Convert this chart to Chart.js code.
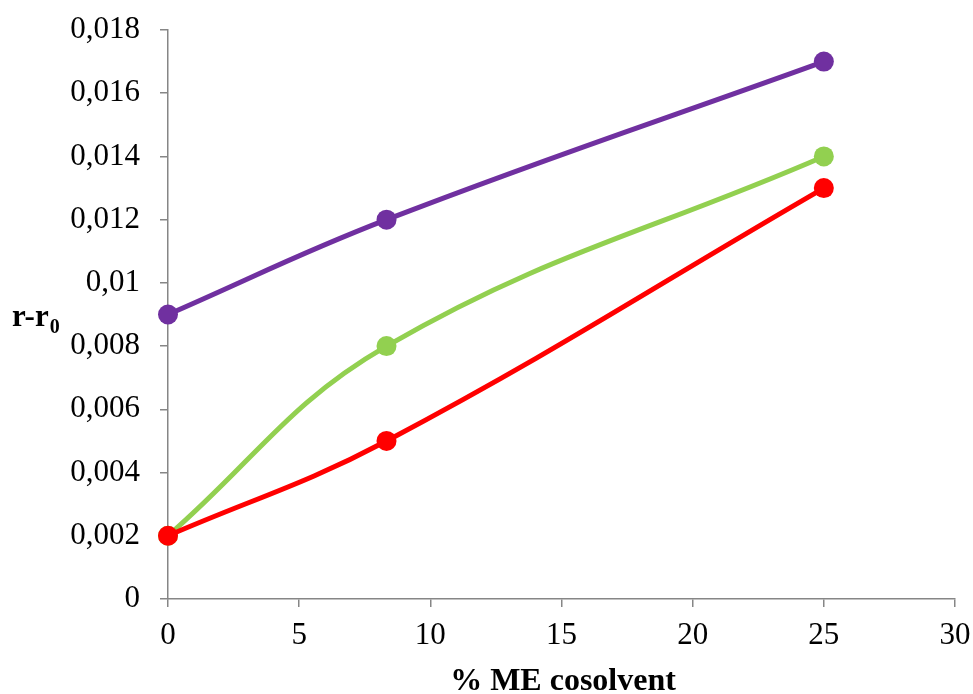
<!DOCTYPE html>
<html>
<head>
<meta charset="utf-8">
<script src="https://cdn.jsdelivr.net/npm/chart.js@4"></script>
<style>
  body { margin: 0; background: #fff; }
  canvas { display: block; }
</style>
</head>
<body>
<canvas id="chart" width="973" height="694"></canvas>
<script>
// Data
const xValues = [0, 8.33, 25];
const purpleValues = [0.009, 0.012, 0.017];
const greenValues = [0.002, 0.008, 0.014];
const redValues = [0.002, 0.005, 0.013];

const xTitle = '% ME cosolvent';
const yTitle = 'r-r';
const yTitleSub = '0';

const toPoints = values => values.map((v, i) => ({ x: xValues[i], y: v }));

const FONT = "'Liberation Serif', 'Times New Roman', serif";
const AXIS_GREY = '#868686';

function series(label, values, color) {
    return {
        label,
        data: toPoints(values),
        borderColor: color,
        backgroundColor: color,
        borderWidth: 5,
        pointRadius: 10,
        pointHoverRadius: 10,
        pointBorderWidth: 0,
        tension: 0.4,
        clip: false,
        fill: false
    };
}

// Axis titles drawn by hand (subscript on the y title)
const titlesPlugin = {
    id: 'titles',
    afterDraw(chart) {
        const c = chart.ctx;
        c.save();
        c.fillStyle = '#000';
        c.textBaseline = 'alphabetic';

        c.font = 'bold 32px ' + FONT;
        c.textAlign = 'center';
        c.fillText(xTitle, 563, 690);

        c.textAlign = 'left';
        c.font = 'bold 31px ' + FONT;
        c.fillText(yTitle, 12, 326);
        const w = c.measureText(yTitle).width;
        c.font = 'bold 20px ' + FONT;
        c.fillText(yTitleSub, 12 + w + 1, 333);
        c.restore();
    }
};

const ctx = document.getElementById('chart').getContext('2d');
new Chart(ctx, {
    type: 'line',
    data: {
        datasets: [
            series('red', redValues, '#FF0000'),
            series('green', greenValues, '#92D050'),
            series('purple', purpleValues, '#7030A0')
        ]
    },
    options: {
        responsive: false,
        animation: false,
        layout: { padding: { top: 30, right: 18, left: 0, bottom: 0 } },
        plugins: {
            legend: { display: false },
            tooltip: { enabled: false }
        },
        scales: {
            x: {
                type: 'linear',
                min: 0,
                max: 30,
                afterFit(scale) {
                    scale.height = 95;
                    scale.paddingLeft = 0;
                    scale.paddingRight = 0;
                },
                ticks: {
                    stepSize: 5,
                    color: '#000',
                    padding: 10,
                    font: { family: FONT, size: 31 }
                },
                grid: {
                    drawOnChartArea: false,
                    drawTicks: true,
                    tickLength: 8,
                    color: AXIS_GREY,
                    lineWidth: 1.5
                },
                border: { color: AXIS_GREY, width: 1.5 }
            },
            y: {
                min: 0,
                max: 0.018,
                afterFit(scale) {
                    scale.width = 168;
                    scale.paddingTop = 0;
                    scale.paddingBottom = 0;
                },
                ticks: {
                    stepSize: 0.002,
                    color: '#000',
                    padding: 20,
                    font: { family: FONT, size: 31 },
                    callback: v => parseFloat(v.toFixed(3)).toString().replace('.', ',')
                },
                grid: {
                    drawOnChartArea: false,
                    drawTicks: true,
                    tickLength: 8,
                    color: AXIS_GREY,
                    lineWidth: 1.5
                },
                border: { color: AXIS_GREY, width: 1.5 }
            }
        }
    },
    plugins: [titlesPlugin]
});
</script>
</body>
</html>
